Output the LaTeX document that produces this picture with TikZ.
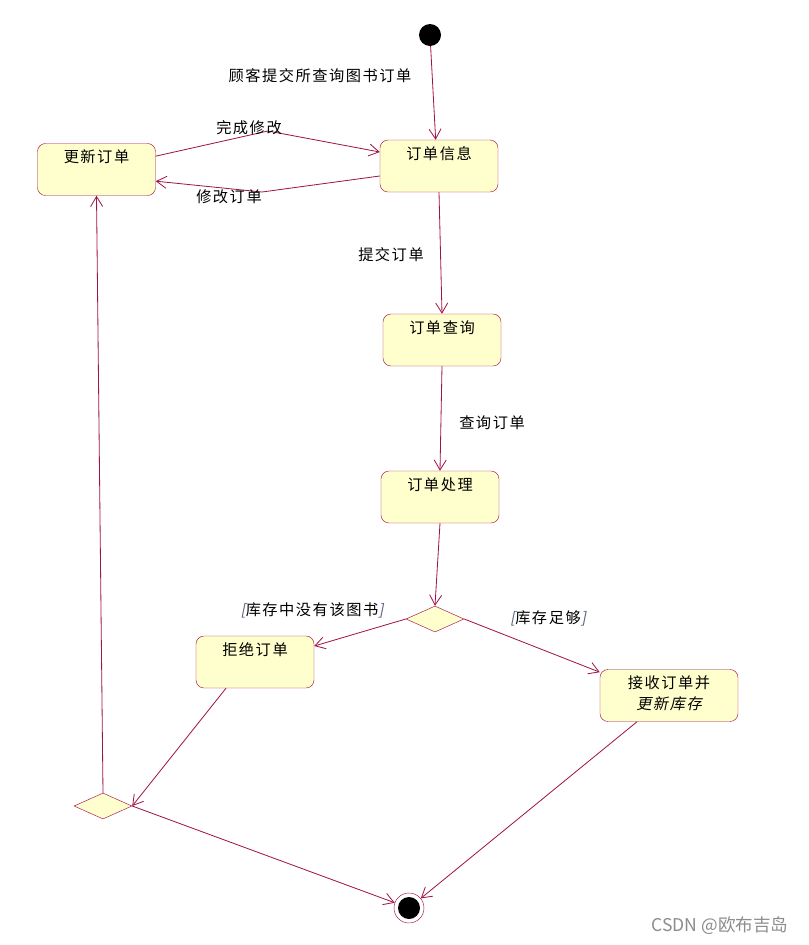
\documentclass[tikz,border=0pt]{standalone}
\usepackage{fontspec}
\setmainfont{Noto Sans CJK SC}[LetterSpace=10]
\newfontfamily\slfont{Noto Sans CJK SC}[LetterSpace=10,FakeSlant=0.2]
\newfontfamily\wmfont{Noto Sans CJK SC}
\usetikzlibrary{shapes.geometric,arrows.meta}
\definecolor{umlline}{RGB}{160,20,70}
\definecolor{umlfill}{RGB}{255,255,206}
\definecolor{guardcol}{RGB}{85,95,125}
\begin{document}
\begin{tikzpicture}[x=0.03cm, y=-0.03cm, >={Straight Barb[length=0.3cm,width=0.36cm]}, font=\fontsize{13}{18}\selectfont]
        \tikzset{box/.style={draw=umlline, fill=umlfill, rounded corners=0.24cm, minimum width=3.54cm, minimum height=1.56cm, inner sep=0pt, align=center, text height=0.57cm, text depth=0.99cm},
                 gate/.style={diamond, draw=umlline, fill=umlfill, minimum width=1.74cm, minimum height=0.78cm, inner sep=0pt},
                 flow/.style={->, draw=umlline, line width=0.7pt}}
        \useasboundingbox (0,0) rectangle (809,945);
        % start and end
        \node[circle, fill=black, minimum size=0.66cm, inner sep=0pt] (s) at (430,35) {};
        \node[circle, draw=umlline, fill=white, minimum size=0.9cm, inner sep=0pt] (f) at (409,908) {};
        \fill (f) circle (0.33cm);
        % states
        \node[box] (u) at (96.5,169.5) {更新订单};
        \node[box] (i) at (439,166) {订单信息};
        \node[box] (q) at (442,340) {订单查询};
        \node[box] (p) at (440,497) {订单处理};
        \node[box] (r) at (255,662) {拒绝订单};
        \node[box, minimum width=4.14cm, text height=1.2cm, text depth=0.36cm] (a) at (669,695.5) {接收订单并\\{\slfont 更新库存}};
        \node[gate] (d1) at (435,619) {};
        \node[gate] (d2) at (103,806) {};
        % transitions
        \draw[flow] (s) -- ([xshift=-0.1cm]i.north);
        \draw[flow] ([yshift=0.4cm]u.east) -- (268,131) -- ([yshift=0.42cm]i.west);
        \draw[flow] ([yshift=-0.3cm]i.west) -- (262,192) -- ([yshift=-0.35cm]u.east);
        \draw[flow] (i.south) -- (q.north);
        \draw[flow] (q.south) -- (p.north);
        \draw[flow] (p.south) -- (d1.north);
        \draw[flow] (d1.west) -- ([yshift=0.48cm]r.east);
        \draw[flow] (d1.east) -- ([yshift=0.7cm]a.west);
        \draw[flow] ([xshift=-0.87cm]r.south) -- (d2.east);
        \draw[flow] (d2.north) -- (u.south);
        \draw[flow] (d2.east) -- (f);
        \draw[flow] ([xshift=-0.96cm]a.south) -- (f);
        % labels
        \node (l1) at (320,76) {顾客提交所查询图书订单};
        \node (l2) at (249,128) {完成修改};
        \node (l3) at (229,197) {修改订单};
        \node (l4) at (391,255) {提交订单};
        \node (l5) at (492,423) {查询订单};
        \node (l6) at (312,610) {{\slfont\color{guardcol}[}库存中没有该图书{\slfont\color{guardcol}]}};
        \node (l7) at (548,618) {{\slfont\color{guardcol}[}库存足够{\slfont\color{guardcol}]}};
        \node[text=black!45, font=\wmfont\fontsize{15}{18}\selectfont] (wm) at (720,926) {CSDN @欧布吉岛};
    \end{tikzpicture}
\end{document}
